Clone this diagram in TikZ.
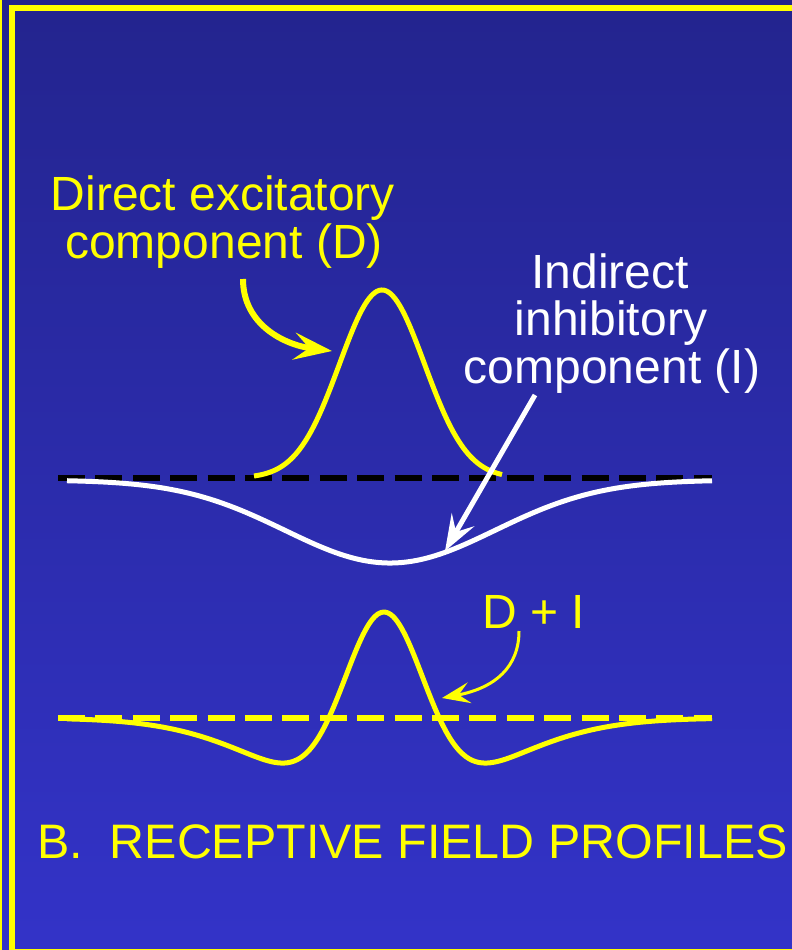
\documentclass[tikz,border=0pt]{standalone}
\usepackage{fontspec}
\setmainfont{Liberation Sans}
\usetikzlibrary{arrows.meta}
\definecolor{bgtop}{RGB}{35,36,142}
\definecolor{bgbot}{RGB}{51,51,200}
\definecolor{ylw}{RGB}{255,255,0}
\begin{document}
\begin{tikzpicture}[x=1pt,y=-1pt,
  lbl/.style={font=\fontsize{48}{48}\selectfont, inner sep=0pt, anchor=base},
  ylbl/.style={lbl, text=ylw},
  wlbl/.style={lbl, text=white},
  basedash/.style={line width=6pt, dash pattern=on 27pt off 10.4pt},
  ycurve/.style={ylw, line width=5pt, line join=round},
  wcurve/.style={white, line width=5pt, line join=round},
  darrow/.style={ylw, line width=6pt, -{Stealth[length=38pt,width=27pt,inset=15pt]}},
  iarrow/.style={white, line width=5pt, -{Stealth[length=36pt,width=26pt,inset=14pt]}},
  sarrow/.style={ylw, line width=3pt, -{Stealth[length=28pt,width=21pt,inset=11pt]}}
]
\useasboundingbox (0,0) rectangle (792,950);
\shade[top color=bgtop, bottom color=bgbot] (0,0) rectangle (792,950);
\begin{scope}
  \clip (0,0) rectangle (792,950);
  \draw[ylw, line width=6pt] (12,8) rectangle (800,952);
  \fill[ylw] (0,0) rectangle (2.3,950);
\end{scope}

% labels
\node[ylbl] (d1) at (223,210) {Direct excitatory};
\node[ylbl] (d2) at (224,258) {component (D)};
\node[wlbl] (i1) at (610,288) {Indirect};
\node[wlbl] (i2) at (611,335.5) {inhibitory};
\node[wlbl] (i3) at (612,383) {component (I)};
\node[ylbl] (sum) at (534,628) {D + I};
\node[ylbl, anchor=base west, font=\fontsize{48.4}{48}\selectfont] (title) at (37,858) {B.\ \ RECEPTIVE FIELD PROFILES};

% baselines
\coordinate (b1l) at (58,478);  \coordinate (b1r) at (712,478);
\coordinate (b2l) at (58,718);  \coordinate (b2r) at (712,718);
\draw[basedash, black] (b1l) -- (b1r);
\draw[basedash, ylw] (b2l) -- (b2r);

% curves
\draw[wcurve] plot[domain=67:712, samples=160, smooth] (\x, {480+83*exp(max(-9,-0.5*((\x-390)/105)^2))});
\draw[ycurve] plot[domain=254:502, samples=110, smooth] (\x, {478-188*exp(max(-9,-0.5*((\x-382)/42.5)^2))});
\draw[ycurve] plot[domain=67:712, samples=200, smooth] (\x, {718-190*exp(max(-9,-0.5*((\x-384)/40)^2))+84*exp(max(-9,-0.5*((\x-384)/105)^2))});

% arrows
\coordinate (dstart) at (243,279); \coordinate (dtip) at (332,351);
\coordinate (istart) at (535,395); \coordinate (itip) at (445,551);
\coordinate (sstart) at (519,631); \coordinate (stip) at (442,698);
\draw[darrow] (dstart) .. controls (243,325) and (285,345) .. (dtip);
\draw[iarrow] (istart) -- (itip);
\draw[sarrow] (sstart) .. controls (519,667) and (495,688) .. (stip);
\end{tikzpicture}
\end{document}
